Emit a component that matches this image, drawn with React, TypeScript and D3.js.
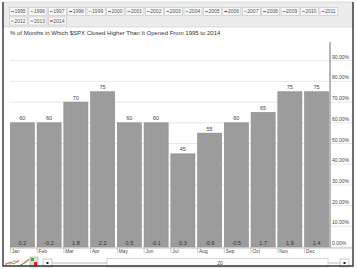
import React from "react";
import * as d3 from "d3";

const months = ["Jan","Feb","Mar","Apr","May","Jun","Jul","Aug","Sep","Oct","Nov","Dec"];
const pctHigher = [60,60,70,75,60,60,45,55,60,65,75,75];
const avgChange = ["0.2","-0.2","1.8","2.2","0.5","-0.1","0.3","-0.9","-0.5","1.7","1.9","1.4"];
const yTicks = [0,10,20,30,40,50,60,70,80,90];
const years = d3.range(1995, 2015).map(String);
const yearColors = ["#ff44dd","#66dd66","#8888ff","#dd2222","#ffaa55","#aa44ff","#33bbbb","#999999"];

const W = 357, H = 269;
const FONT = "Arial, 'Liberation Sans', sans-serif";

export default function App() {
  const x = d3.scaleBand<string>().domain(months).range([9, 330]).paddingInner(0.1).paddingOuter(0.05);
  const y = d3.scaleLinear().domain([0, 100]).range([247, 40]);

  const legendStep = 19.4;
  return (
    <div style={{ position: "fixed", left: 0, top: 0 }}>
      <svg width={W} height={H} style={{ display: "block", fontFamily: FONT }}>
        <rect x={0} y={0} width={W} height={H} fill="#fff" />
        {/* header */}
        <rect x={3} y={2} width={350} height={25} fill="#ececec" stroke="#d4d4d4" strokeWidth={0.8} />
        {years.map((yr, i) => {
          const row = i < 17 ? 0 : 1;
          const col = row === 0 ? i : i - 17;
          const bx = 9.5 + col * legendStep;
          const by = row === 0 ? 7.5 : 17;
          return (
            <g key={yr}>
              <rect x={bx} y={by} width={18} height={8} fill="#f8f8f8" stroke="#c4c4c4" strokeWidth={0.6} />
              <line x1={bx + 1.5} x2={bx + 4.5} y1={by + 4} y2={by + 4} stroke={yearColors[i % 8]} strokeWidth={1.2} />
              <text x={bx + 5} y={by + 5.9} fontSize={5} fill="#555">{yr}</text>
            </g>
          );
        })}
        <text x={10} y={35} fontSize={6} fill="#333">% of Months in Which $SPX Closed Higher Than It Opened From 1995 to 2014</text>

        {/* gridlines */}
        {yTicks.map(t => (
          <line key={t} x1={10} x2={352} y1={y(t)} y2={y(t)} stroke="#e2e2e2" strokeWidth={0.8} />
        ))}
        {/* bars */}
        {months.map((m, i) => (
          <g key={m}>
            <rect x={x(m)} y={y(pctHigher[i])} width={x.bandwidth()} height={y(0) - y(pctHigher[i])}
              fill="#9c9c9c" stroke="#8a8a8a" strokeWidth={0.6} />
            <text x={x(m)! + x.bandwidth() / 2} y={y(pctHigher[i]) - 2.5} fontSize={5.5} fill="#444" textAnchor="middle">{pctHigher[i]}</text>
            <text x={x(m)! + x.bandwidth() / 2} y={y(0) - 2} fontSize={5.5} fill="#333" textAnchor="middle">{avgChange[i]}</text>
          </g>
        ))}
        {/* right axis */}
        <line x1={330} x2={330} y1={42} y2={248} stroke="#a0a0a0" strokeWidth={1.5} />
        {yTicks.map(t => (
          <text key={t} x={332} y={y(t) - 2} fontSize={5} fill="#444">{t.toFixed(2)}%</text>
        ))}
        {/* x axis */}
        <line x1={10} x2={352} y1={248} y2={248} stroke="#bbb" strokeWidth={1} />
        {months.map(m => (
          <g key={m}>
            <line x1={x(m)} x2={x(m)} y1={248} y2={253} stroke="#aaa" strokeWidth={0.6} />
            <text x={x(m)! + 1.5} y={253} fontSize={4.8} fill="#444">{m}</text>
          </g>
        ))}
        {/* scrollbar row */}
        <g>
          <path d="M5,265 L10,262 L14,264 L19,260" fill="none" stroke="#e33" strokeWidth={0.8} />
          <path d="M5,263 L10,264 L14,261 L19,262" fill="none" stroke="#3b3" strokeWidth={0.8} />
          <path d="M20,266 L25,262 L29,259" fill="none" stroke="#e33" strokeWidth={0.8} />
          <path d="M20,265 L25,263 L29,260" fill="none" stroke="#3b3" strokeWidth={0.8} />
          <rect x={30} y={257} width={8} height={10} fill="#ddd" stroke="#999" strokeWidth={0.5} />
          <rect x={31} y={258} width={3} height={3} fill="#2b2" />
          <rect x={34} y={262} width={3} height={4} fill="#d22" />
          <rect x={43} y={259} width={9} height={8} fill="#fff" stroke="#aaa" strokeWidth={0.6} />
          <rect x={46.5} y={262} width={2} height={2} fill="#222" />
          <line x1={52} x2={107} y1={263} y2={263} stroke="#bbb" strokeWidth={1} />
          <rect x={107} y={258.5} width={221} height={8.5} fill="#fff" stroke="#bbb" strokeWidth={0.6} />
          <text x={220} y={264.5} fontSize={5} fill="#444" textAnchor="middle">20</text>
          <line x1={328} x2={340} y1={263} y2={263} stroke="#bbb" strokeWidth={1} />
          <rect x={340} y={259} width={9} height={8} fill="#fff" stroke="#aaa" strokeWidth={0.6} />
          <rect x={343.5} y={262} width={2} height={2} fill="#222" />
        </g>
        {/* frame: dark on left, right, bottom */}
        <path d="M3,2 L3,266 L353,266 L353,2" fill="none" stroke="#333" strokeWidth={1.4} />
      </svg>
    </div>
  );
}
